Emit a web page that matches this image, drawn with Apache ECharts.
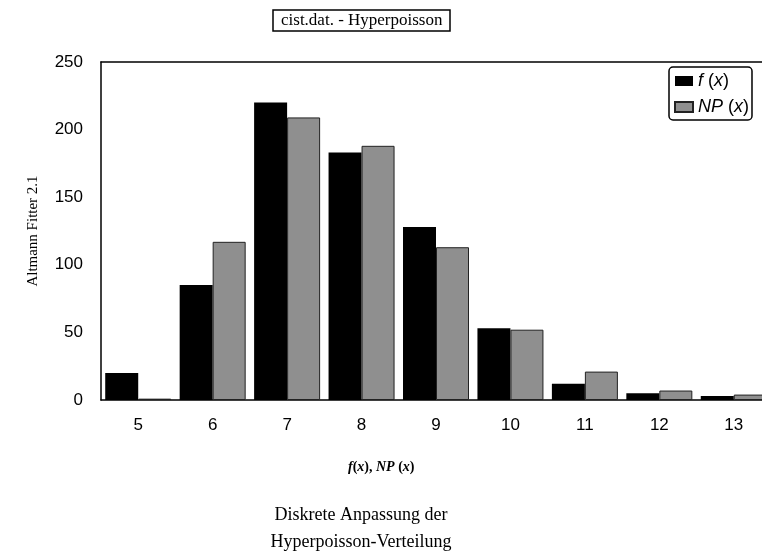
<!DOCTYPE html>
<html>
<head>
<meta charset="utf-8">
<script src="https://cdn.jsdelivr.net/npm/echarts@6/dist/echarts.min.js"></script>
<style>
  html, body { margin: 0; padding: 0; background: #fff; overflow: hidden; }
  /* the plot runs past the right edge of the picture, so the canvas is a bit wider than the window */
  #chart { width: 780px; height: 551px; }
</style>
</head>
<body>
<div id="chart"></div>
<script>
// Werte
const categories = ['5', '6', '7', '8', '9', '10', '11', '12', '13']
const fValues = [20, 85, 220, 183, 128, 53, 12, 5, 3]
const npValues = [1, 117, 209, 188, 113, 52, 21, 7, 4]
const yTicks = [0, 50, 100, 150, 200, 250]

const chart = echarts.init(document.getElementById('chart'))

const serif = '"Liberation Serif", "DejaVu Serif", serif'
const sans = '"Liberation Sans", Arial, sans-serif'

const option = {
  animation: false,
  backgroundColor: '#fff',
  title: [
    {
      text: 'cist.dat. - Hyperpoisson',
      left: 273,
      top: 10,
      padding: [2, 8, 2, 8],
      borderColor: '#000',
      borderWidth: 1.5,
      textStyle: { fontFamily: serif, fontSize: 17, fontWeight: 'normal', color: '#000' },
    },
    {
      text: '{i|f}{n|(}{i|x}{n|), }{b|NP}{n| (}{i|x}{n|)}',
      left: 343,
      top: 455,
      textStyle: {
        rich: {
          i: { fontFamily: serif, fontSize: 14, fontStyle: 'italic', fontWeight: 'bold', color: '#000' },
          b: { fontFamily: serif, fontSize: 14, fontStyle: 'italic', fontWeight: 'bold', color: '#000' },
          n: { fontFamily: serif, fontSize: 14, color: '#000' },
        },
      },
    },
    {
      text: 'Diskrete Anpassung der\nHyperpoisson-Verteilung',
      left: 356,
      top: 497,
      textAlign: 'center',
      textStyle: { fontFamily: serif, fontSize: 18, fontWeight: 'normal', color: '#000', lineHeight: 27, align: 'center' },
    },
  ],
  legend: {
    orient: 'vertical',
    left: 669,
    top: 67,
    padding: [5, 3, 4, 5],
    borderColor: '#000',
    borderWidth: 1.5,
    borderRadius: 4,
    icon: 'rect',
    itemWidth: 18,
    itemHeight: 10,
    itemGap: 8,
    formatter: (name) => name === 'f(x)' ? '{i|f}{n| (}{i|x}{n|)}' : '{i|NP}{n| (}{i|x}{n|)}',
    textStyle: {
      rich: {
        i: { fontFamily: sans, fontSize: 18, fontStyle: 'italic', color: '#000' },
        n: { fontFamily: sans, fontSize: 18, color: '#000' },
      },
    },
    data: ['f(x)', 'NP(x)'],
  },
  grid: {
    left: 101,
    top: 62,
    width: 670,
    height: 338,
  },
  xAxis: [
    {
      type: 'category',
      data: categories,
      axisLine: { lineStyle: { color: '#000', width: 1.5 } },
      axisTick: { show: false },
      axisLabel: { color: '#000', fontFamily: sans, fontSize: 17, margin: 17 },
    },
    {
      // top edge of the plot frame
      type: 'category',
      data: categories,
      position: 'top',
      axisLine: { lineStyle: { color: '#000', width: 1.5 } },
      axisTick: { show: false },
      axisLabel: { show: false },
    },
  ],
  yAxis: {
    type: 'value',
    min: yTicks[0],
    max: yTicks[yTicks.length - 1],
    interval: 50,
    name: 'Altmann Fitter 2.1',
    nameLocation: 'middle',
    nameRotate: 90,
    nameGap: 60,
    nameTextStyle: { fontFamily: serif, fontSize: 15, color: '#000' },
    axisLine: { show: true, lineStyle: { color: '#000', width: 1.5 } },
    axisTick: { show: false },
    splitLine: { show: false },
    axisLabel: { color: '#000', fontFamily: sans, fontSize: 17, margin: 18 },
  },
  series: [
    {
      name: 'f(x)',
      type: 'bar',
      data: fValues,
      barWidth: 33,
      barGap: '0%',
      itemStyle: { color: '#000' },
    },
    {
      name: 'NP(x)',
      type: 'bar',
      data: npValues,
      barWidth: 33,
      itemStyle: { color: '#8f8f8f', borderColor: '#222', borderWidth: 1 },
    },
  ],
}

chart.setOption(option)
</script>
</body>
</html>
